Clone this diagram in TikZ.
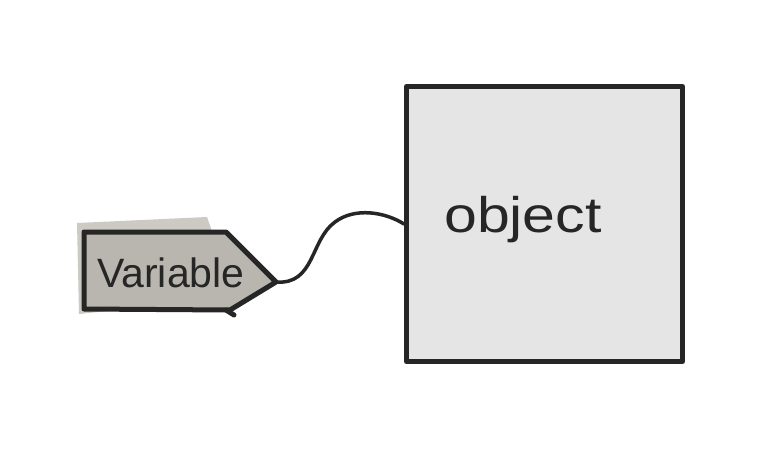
\documentclass[tikz,border=0pt]{standalone}
\usepackage{fontspec}
\setmainfont{Liberation Sans}
\definecolor{ink}{HTML}{262626}
\definecolor{tagfill}{HTML}{B9B6AF}
\definecolor{shadowfill}{HTML}{CDCAC4}
\definecolor{boxfill}{HTML}{E5E5E5}
\tikzset{
  inkline/.style={draw=ink, line width=5pt, line cap=round, line join=round},
  conn/.style={draw=ink, line width=3.5pt, line cap=round},
}
\begin{document}
\begin{tikzpicture}[x=1pt,y=-1pt]
\useasboundingbox[fill=white] (0,0) rectangle (769,448);
% object box
\node[inkline, fill=boxfill, minimum width=276pt, minimum height=275pt, inner sep=0pt] (obj) at (544.5,224) {};
\node[text=ink, font=\fontsize{50}{50}\selectfont, anchor=base west, inner sep=0pt] (objtext) at (444,232) {\scalebox{1.18}[1]{object}};
% tag shadow
\fill[shadowfill] (77,223) -- (207,217) -- (213,234) -- (216,300) -- (79,314) -- cycle;
% tag
\path[inkline, fill=tagfill] (84,232) -- (226,232) -- (276,282) -- (230,310) -- (84,309) -- cycle;
\draw[inkline] (226,310) -- (234,315);
\coordinate (tip) at (276,282);
\node[text=ink, font=\fontsize{41}{41}\selectfont, anchor=base west, inner sep=0pt] (var) at (97,287) {Variable};
% connector
\draw[conn] (tip) .. controls (315,285) and (310,240) .. (335,222)
  .. controls (355,207) and (385,212) .. (obj.west);
\end{tikzpicture}
\end{document}
